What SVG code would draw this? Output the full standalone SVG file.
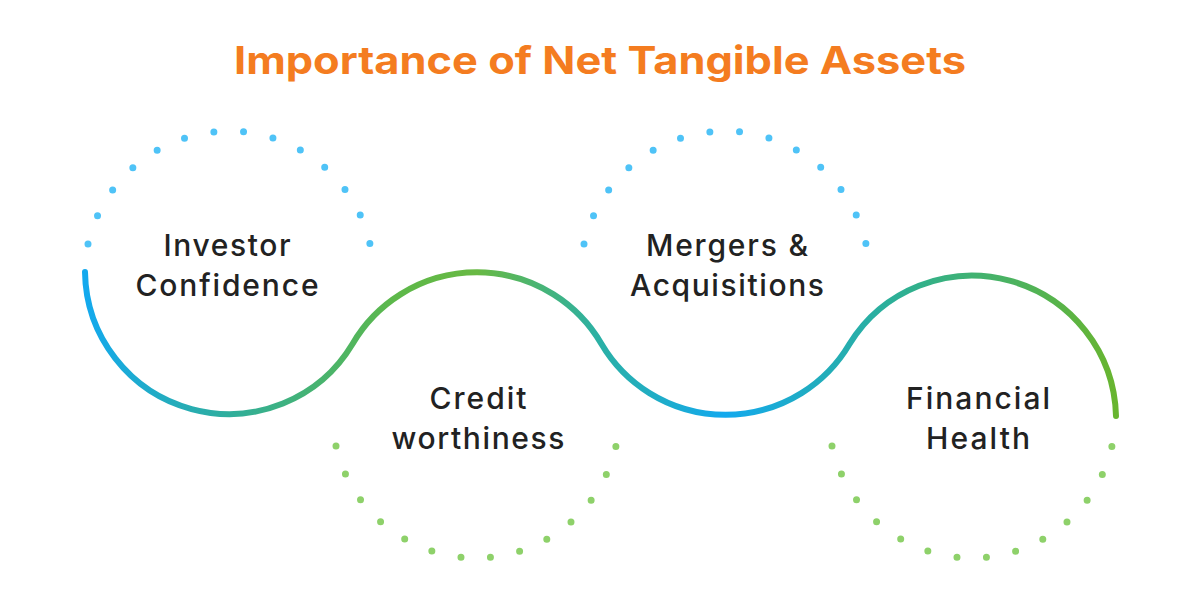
<svg xmlns="http://www.w3.org/2000/svg" width="1200" height="604" viewBox="0 0 1200 604">
<style>
.t{font-family:Inter,"Liberation Sans",sans-serif;font-size:30px;fill:#222;text-anchor:middle;font-weight:500}
.db{fill:none;stroke:#4fc3f7;stroke-width:7;stroke-linecap:round;stroke-dasharray:0 1}
.dg{fill:none;stroke:#8ed16a;stroke-width:7;stroke-linecap:round;stroke-dasharray:0 1}
</style>
<defs>
<linearGradient id="g" gradientUnits="userSpaceOnUse" x1="85" y1="0" x2="1116" y2="0">
<stop offset="0" stop-color="#13a9ee"/><stop offset="0.14" stop-color="#2fae9c"/><stop offset="0.3" stop-color="#5db84a"/><stop offset="0.38" stop-color="#68b943"/><stop offset="0.5" stop-color="#2ab0a6"/><stop offset="0.62" stop-color="#13a9ee"/><stop offset="0.8" stop-color="#2fb08f"/><stop offset="1" stop-color="#68b52f"/>
</linearGradient>
</defs>
<rect width="1200" height="604" fill="#fff"/>
<text x="600" y="74" font-family="Inter,Liberation Sans,sans-serif" font-size="38" font-weight="bold" fill="#f47c20" text-anchor="middle" textLength="732" lengthAdjust="spacingAndGlyphs">Importance of Net Tangible Assets</text>
<g id="connectors">
<path d="M85 272 A144 144 0 0 0 352.5 344 A144 144 0 0 1 601.5 344 A144 144 0 0 0 849.5 344 A144 144 0 0 1 1116 416" fill="none" stroke="url(#g)" stroke-width="6" stroke-linecap="round"/>
</g>
<g id="n1"><path class="db" pathLength="13.02" d="M88 244 A144.5 144.5 0 0 1 370 244"/><text class="t" x="227" y="256" textLength="127">Investor</text><text class="t" x="227" y="296" textLength="183">Confidence</text></g>
<g id="n2"><path class="dg" pathLength="13.02" d="M336 446 A143.5 143.5 0 0 0 616 446"/><text class="t" x="478" y="409" textLength="97">Credit</text><text class="t" x="478" y="449" textLength="173">worthiness</text></g>
<g id="n3"><path class="db" pathLength="13.02" d="M584 244 A144.5 144.5 0 0 1 866 244"/><text class="t" x="727" y="256" textLength="162">Mergers &amp;</text><text class="t" x="727" y="296" textLength="194">Acquisitions</text></g>
<g id="n4"><path class="dg" pathLength="13.02" d="M832 446 A143.5 143.5 0 0 0 1112 446"/><text class="t" x="978" y="409" textLength="144">Financial</text><text class="t" x="978" y="449" textLength="104">Health</text></g>
</svg>
